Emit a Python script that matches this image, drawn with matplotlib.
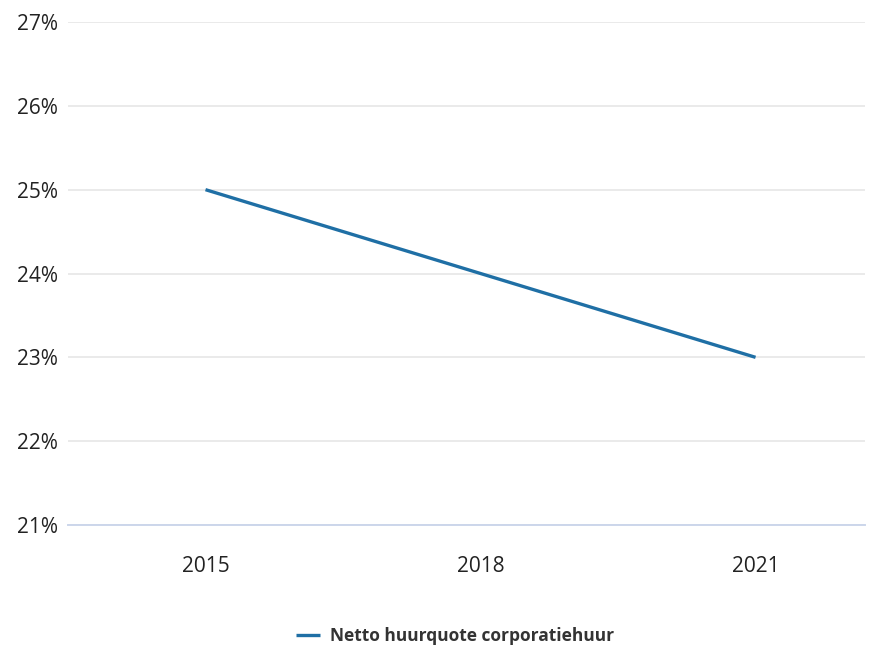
import matplotlib
matplotlib.use("Agg")
import matplotlib.pyplot as plt
from matplotlib.ticker import FuncFormatter

years = ["2015", "2018", "2021"]
huurquote = [25.0, 24.0, 23.0]
series_label = "Netto huurquote corporatiehuur"
y_ticks = [21, 22, 23, 24, 25, 26, 27]

LINE = "#1f6fa5"

plt.rcParams["font.family"] = ["Open Sans", "DejaVu Sans"]

fig = plt.figure(figsize=(8.81, 6.46), dpi=100)
W, H = 881, 646
ax = fig.add_axes([68 / W, 1 - 525 / H, (865 - 68) / W, (525 - 22) / H])

x = list(range(len(years)))
ax.plot(x, huurquote, color=LINE, lw=2.4, solid_capstyle="butt")

ax.set_ylim(21, 27)
ax.set_xlim(-0.5, 2.398)
ax.set_yticks(y_ticks)
ax.yaxis.set_major_formatter(FuncFormatter(lambda v, _: f"{v:.0f}%"))
ax.set_xticks(x)
ax.set_xticklabels(years)

ax.grid(axis="y", color="#e6e6e6", lw=1.2)
ax.set_axisbelow(True)
for s in ["top", "right", "left"]:
    ax.spines[s].set_visible(False)
ax.spines["bottom"].set_color("#ccd6eb")
ax.spines["bottom"].set_linewidth(1.4)
ax.tick_params(axis="both", length=0, labelsize=15, colors="#222222")
ax.tick_params(axis="y", pad=7)
ax.tick_params(axis="x", pad=22)

leg = fig.legend([ax.lines[0]], [series_label], loc="center",
                 bbox_to_anchor=(455 / W, 1 - 636 / H), frameon=False,
                 handlelength=1.4, handletextpad=0.6,
                 prop={"weight": "bold", "size": 12.5})
for t in leg.get_texts():
    t.set_color("#333333")

fig.savefig("out.png", dpi=100)
